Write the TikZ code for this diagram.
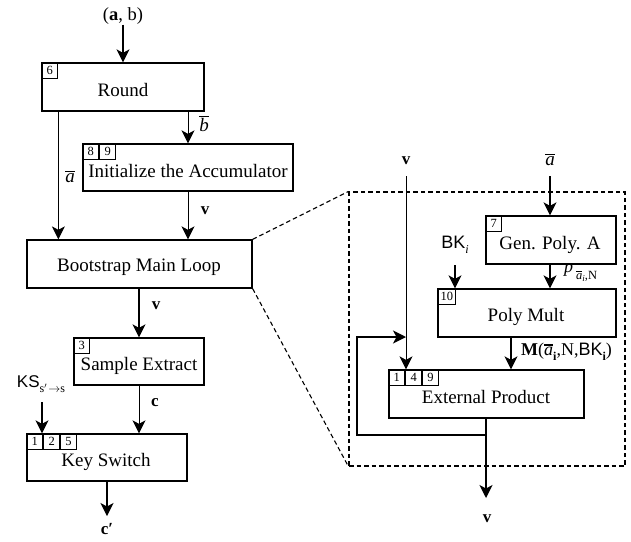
\documentclass[tikz,border=0pt]{standalone}
\usepackage{fontspec}
\setmainfont{Liberation Serif}
\setsansfont{Liberation Sans}
\usetikzlibrary{arrows.meta,calc}
\newcommand{\obar}[2][1.3pt]{\leavevmode\hbox{\vbox{\hrule height #1\kern 1.5pt\hbox{#2}}}}
\newcommand{\abar}{\obar{\textit{a}}}
\newcommand{\bbar}{\obar{\textit{b}}}
\newcommand{\lowsub}[2][11]{\raisebox{-0.3em}{\fontsize{#1}{#1}\selectfont #2}}
\begin{document}
\begin{tikzpicture}[x=1pt,y=-1pt,
  box/.style={draw, line width=1.3pt, inner sep=0pt},
  num/.style={draw, line width=0.9pt, minimum width=16pt, minimum height=16pt, inner sep=0pt, font=\fontsize{12.5}{12}\selectfont, anchor=north west},
  txt/.style={font=\fontsize{19}{22}\selectfont, inner sep=0pt},
  arr/.style={-{Stealth[length=13pt,width=13pt,inset=3.5pt]}, line width=1.3pt},
  thin/.style={line width=1pt},
  lbl/.style={font=\fontsize{17}{20}\selectfont, inner sep=0pt},
  bv/.style={font=\fontsize{17}{20}\selectfont\bfseries, inner sep=0pt},
  dashline/.style={dashed, dash pattern=on 4.5pt off 3pt, line width=1.1pt}]
\useasboundingbox (0,0) rectangle (631,541);

% ---- left column boxes
\node[box, minimum width=162pt, minimum height=48pt] (round) at (123,87) {};
\node[num] (n6) at (round.north west) {6};
\node[txt] at (123,90) {Round};

\node[box, minimum width=210pt, minimum height=47pt] (init) at (188,167.5) {};
\node[num] (n8) at (init.north west) {8};
\node[num] (n9) at (n8.north east) {9};
\node[txt] at (188,171) {Initialize the Accumulator};

\node[box, minimum width=225pt, minimum height=48pt] (boot) at (139.5,264) {};
\node[txt] at (139,267) {Bootstrap Main Loop};

\node[box, minimum width=130pt, minimum height=47pt] (samp) at (139,361.5) {};
\node[num] (n3) at (samp.north west) {3};
\node[txt] at (139,366) {Sample Extract};

\node[box, minimum width=160pt, minimum height=47pt] (ks) at (107,457.5) {};
\node[num] (k1) at (ks.north west) {1};
\node[num] (k2) at (k1.north east) {2};
\node[num] (k5) at (k2.north east) {5};
\node[txt] at (106,462) {Key Switch};

% ---- left labels
\node[lbl, font=\fontsize{18.5}{20}\selectfont] (ab) at (123,16) {(\textbf{a}, b)};
\node[lbl, font=\fontsize{19}{20}\selectfont] (la) at (70,177) {\abar};
\node[lbl, font=\fontsize{19}{20}\selectfont] (lb) at (204,124) {\bbar};
\node[bv] (lv1) at (205,211) {v};
\node[bv] (lv2) at (156,306) {v};
\node[bv] (lc) at (155,403) {c};
\node[lbl] (kslab) at (41,384) {\textsf{KS}\lowsub[12]{s$'\!\to$s}};
\node[bv] (cp) at (107,529) {c′};

% ---- left connectors
\draw[arr] (ab.south) -- (round.north);
\coordinate (ra) at ($(round.south west)+(17,0)$);
\draw[arr, thin] (ra) -- (ra |- boot.north);
\draw[arr, thin] (init.north |- round.south) -- (init.north);
\draw[arr, thin] (init.south) -- (init.south |- boot.north);
\draw[arr] (samp.north |- boot.south) -- (samp.north);
\draw[arr, thin] (samp.south) -- (samp.south |- ks.north);
\coordinate (kst) at (42,402);
\draw[arr] (kst) -- (kst |- ks.north);
\draw[arr] (ks.south) -- (107,516);

% ---- dashed zoom region
\node[dashline, draw, minimum width=276pt, minimum height=274pt, inner sep=0pt] (dbox) at (487,329) {};
\draw[dashline] (boot.north east) -- (dbox.north west);
\draw[dashline] (boot.south east) -- (dbox.south west);

% ---- right boxes
\node[box, minimum width=130pt, minimum height=48pt] (gen) at (551,240) {};
\node[num] (n7) at (gen.north west) {7};
\node[txt] at (550,245) {Gen. Poly. A};

\node[box, minimum width=178pt, minimum height=48pt] (pm) at (527,313) {};
\node[num, minimum width=18pt] (n10) at (pm.north west) {10};
\node[txt] at (526,317) {Poly Mult};

\node[box, minimum width=195pt, minimum height=48pt] (ep) at (486.5,394) {};
\node[num] (e1) at (ep.north west) {1};
\node[num] (e4) at (e1.north east) {4};
\node[num] (e9) at (e4.north east) {9};
\node[txt] at (486,397) {External Product};

% ---- right labels
\node[bv] (vtop) at (406,161) {v};
\node[lbl, font=\fontsize{19}{20}\selectfont] (atop) at (550,160) {\abar};
\node[lbl, font=\fontsize{18}{20}\selectfont] (bk) at (455,245) {\textsf{BK}\lowsub[12]{\textit{i}}};
\node[lbl, font=\fontsize{18}{20}\selectfont, anchor=west] (pl) at (564,273) {\textit{p}\,\raisebox{-0.35em}{\fontsize{12.5}{12}\selectfont\obar[1pt]{\textit{a}}\raisebox{-0.2em}{\fontsize{9}{9}\selectfont\textit{i}},N}};
\node[lbl, font=\fontsize{18}{20}\selectfont, anchor=west] (ml) at (521,352) {\textbf{M}(\abar\lowsub[12]{\textbf{i}},N,\textsf{BK}\lowsub[12]{\textbf{i}})};
\node[bv] (vbot) at (487,519) {v};

% ---- right connectors
\coordinate (vt) at (406,176);
\draw[arr, thin] (vt) -- (vt |- ep.north);
\coordinate (at) at (550,176);
\draw[arr] (at) -- (at |- gen.north);
\draw[arr] (at |- gen.south) -- (at |- pm.north);
\coordinate (bt) at (455,265);
\draw[arr] (bt) -- (bt |- pm.north);
\coordinate (mt) at (511,337);
\draw[arr] (mt |- pm.south) -- (mt |- ep.north);
\coordinate (eo) at (486,418);
\draw[arr] (eo) -- (486,498);
\coordinate (fb) at (486,435);
\coordinate (fl) at (357,435);
\coordinate (fu) at (357,337);
\draw[arr] (fb) -- (fl) -- (fu) -- (fu -| vt);
\end{tikzpicture}
\end{document}
